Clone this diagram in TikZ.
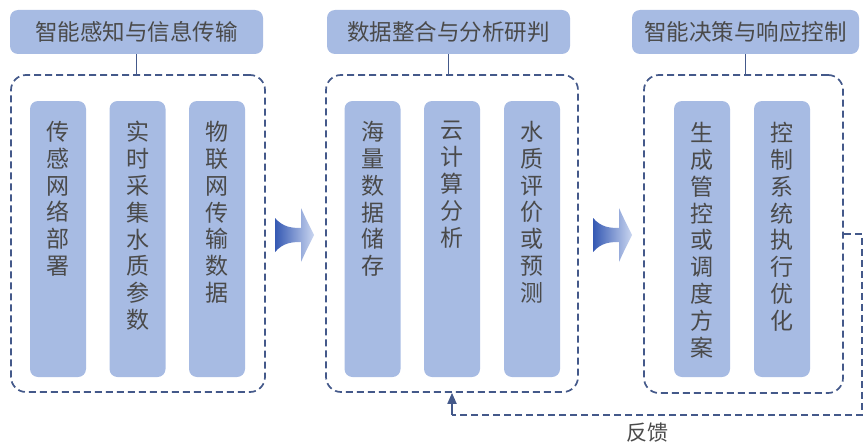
\documentclass[tikz,border=0pt]{standalone}
\usepackage{fontspec}
\setmainfont{Noto Sans CJK SC}
\usetikzlibrary{arrows.meta}
\definecolor{boxfill}{HTML}{A7BBE3}
\definecolor{dashc}{HTML}{44598A}
\definecolor{txt}{HTML}{4A4A4A}
\definecolor{arrdark}{HTML}{3559B3}
\definecolor{arrlight}{HTML}{CAD6F0}
\tikzset{
  titlebox/.style={draw=none, fill=boxfill, rounded corners=8pt, minimum height=44pt, inner sep=0pt, text=txt, font=\fontsize{22.5}{26}\selectfont},
  bar/.style={draw=none, fill=boxfill, rounded corners=8pt, minimum width=56pt, minimum height=276pt, inner sep=0pt},
  bartext/.style={anchor=north, inner sep=0pt, align=center, text=txt, font=\fontsize{23}{26.9}\selectfont},
  group/.style={draw=dashc, line width=1.7pt, dash pattern=on 7pt off 4pt, rounded corners=15pt, inner sep=0pt},
  link/.style={draw=dashc, line width=1.8pt},
  fb/.style={draw=dashc, line width=2pt, dash pattern=on 7pt off 4pt},
  bigarrow/.pic={
    \shade[left color=arrdark, right color=arrlight]
      (0,-17) .. controls (8,-8) and (16,-7) .. (26,-7) -- (26,-27)
      .. controls (31,-16) .. (39,0) .. controls (31,16) .. (26,27)
      -- (26,7) .. controls (16,7) and (8,8) .. (0,17) -- cycle;
  }
}
\begin{document}
\begin{tikzpicture}[x=1pt,y=-1pt]
\useasboundingbox (0,0) rectangle (864,444);
% titles
\node[titlebox, minimum width=253pt] (t1) at (136.5,32) {智能感知与信息传输};
\node[titlebox, minimum width=243pt] (t2) at (448.5,32) {数据整合与分析研判};
\node[titlebox, minimum width=227pt] (t3) at (745.5,32) {智能决策与响应控制};
% groups
\node[group, minimum width=254pt, minimum height=317pt] (g1) at (138,233.5) {};
\node[group, minimum width=252pt, minimum height=317pt] (g2) at (452,233.5) {};
\node[group, minimum width=199pt, minimum height=318pt] (g3) at (743.5,234) {};
% connectors title-group
\draw[link] (t1.south) -- (t1.south |- g1.north);
\draw[link] (t2.south) -- (t2.south |- g2.north);
\draw[link] (t3.south) -- (t3.south |- g3.north);
% bars group 1
\node[bar] (b11) at (58,239) {};
\node[bar] (b12) at (137.5,239) {};
\node[bar] (b13) at (217,239) {};
\node[bartext] (l11) at ([yshift=-20pt]b11.north) {传\\感\\网\\络\\部\\署};
\node[bartext] (l12) at ([yshift=-20pt]b12.north) {实\\时\\采\\集\\水\\质\\参\\数};
\node[bartext] (l13) at ([yshift=-20pt]b13.north) {物\\联\\网\\传\\输\\数\\据};
% bars group 2
\node[bar] (b21) at (372.5,239) {};
\node[bar] (b22) at (452,239) {};
\node[bar] (b23) at (532,239) {};
\node[bartext] (l21) at ([yshift=-20pt]b21.north) {海\\量\\数\\据\\储\\存};
\node[bartext] (l22) at ([yshift=-20pt]b22.north) {云\\计\\算\\分\\析};
\node[bartext] (l23) at ([yshift=-20pt]b23.north) {水\\质\\评\\价\\或\\预\\测};
% bars group 3
\node[bar] (b31) at (702,239) {};
\node[bar] (b32) at (782,239) {};
\node[bartext] (l31) at ([yshift=-21pt]b31.north) {生\\成\\管\\控\\或\\调\\度\\方\\案};
\node[bartext] (l32) at ([yshift=-21pt]b32.north) {控\\制\\系\\统\\执\\行\\优\\化};
% big arrows
\pic at (275,235) {bigarrow};
\pic at (593,235) {bigarrow};
% feedback
\coordinate (fbc) at (862,415);
\draw[fb] (g3.east) -| (fbc) -- (g2.south |- fbc);
\draw[link, -{Triangle[width=9pt,length=11pt]}] (g2.south |- fbc) -- (g2.south);
\node[text=txt, font=\fontsize{21}{24}\selectfont] (fbl) at (647,433) {反馈};
\end{tikzpicture}
\end{document}
